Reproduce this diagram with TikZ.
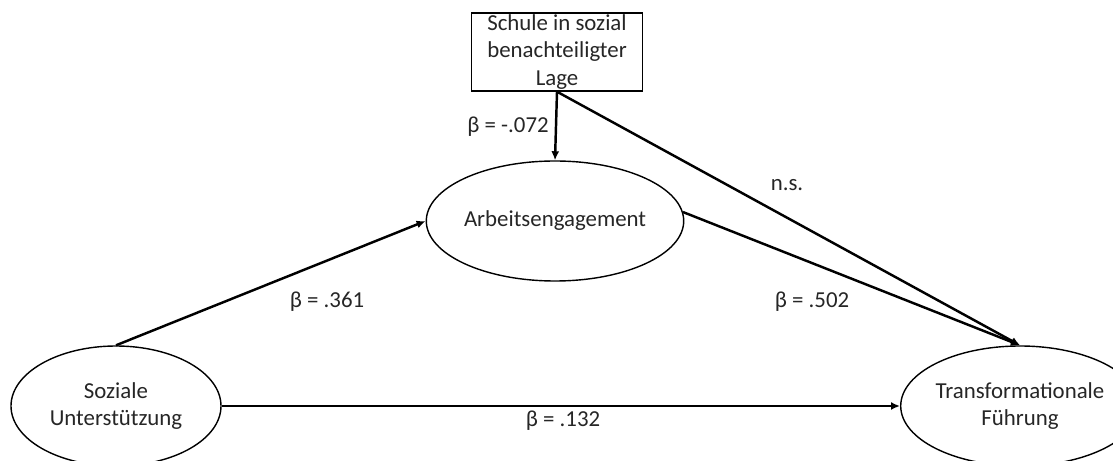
\documentclass[tikz,border=0pt]{standalone}
\usepackage{fontspec}
\setmainfont{Carlito}
\usetikzlibrary{positioning,shapes.geometric,arrows.meta}

\tikzset{
  var/.style={draw, ellipse, line width=0.8pt, minimum width=4.2cm, minimum height=2.4cm, inner sep=0pt, align=center},
  obs/.style={draw, rectangle, line width=0.8pt, minimum width=3.42cm, minimum height=1.56cm, inner sep=1pt, align=center},
  path/.style={-{Latex[length=1.8mm,width=1.6mm]}, line width=1.4pt},
  coef/.style={inner sep=1pt}
}

\begin{document}
\begin{tikzpicture}[font=\fontsize{13}{15.4}\selectfont, text=black!85]
  \useasboundingbox (0,0) rectangle (22.26,-9.22);
  \node[obs] (schule) at (11.14,-1.04) {Schule in sozial\\benachteiligter\\Lage};
  \node[var] (arbeit) at (11.10,-4.42) {Arbeitsengagement};
  \node[var] (sozial) at (2.32,-8.12) {Soziale\\Unterstützung};
  \node[var] (fuehrung) at (20.40,-8.12) {Transformationale\\Führung};
  \draw[path] (schule.south) -- (arbeit.north);
  \draw[path] (schule.south) -- (fuehrung.north);
  \draw[path] (arbeit.4) -- (fuehrung.north);
  \draw[path] (sozial.north) -- (arbeit.west);
  \draw[path] (sozial.east) -- (fuehrung.west);
  \node[coef] (b072) at (10.16,-2.54) {β = -.072};
  \node[coef] (bns) at (15.74,-3.70) {n.s.};
  \node[coef] (b361) at (6.54,-6.04) {β = .361};
  \node[coef] (b502) at (16.24,-6.04) {β = .502};
  \node[coef] (b132) at (11.26,-8.42) {β = .132};
\end{tikzpicture}
\end{document}
